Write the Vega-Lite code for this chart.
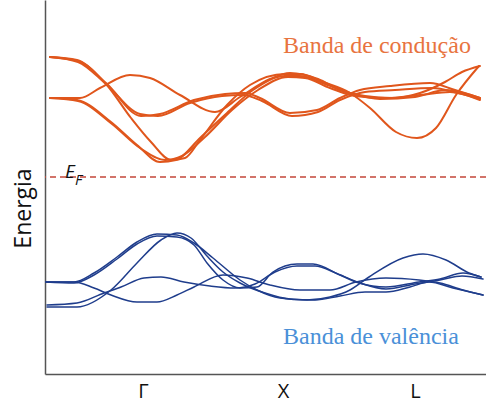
{
  "$schema": "https://vega.github.io/schema/vega-lite/v6.json",
  "width": 441,
  "height": 374,
  "autosize": {"type": "none"},
  "padding": {"left": 45, "top": 0, "right": 0, "bottom": 31},
  "background": "white",
  "config": {"view": {"stroke": null}},
  "datasets": {
    "bandas": [
      {"c":"O1","b":"cond","k":5,"E":317},{"c":"O1","b":"cond","k":32,"E":314},{"c":"O1","b":"cond","k":61,"E":291},{"c":"O1","b":"cond","k":96,"E":258},{"c":"O1","b":"cond","k":115,"E":260},{"c":"O1","b":"cond","k":149,"E":274},{"c":"O1","b":"cond","k":180,"E":280},{"c":"O1","b":"cond","k":200,"E":281},{"c":"O1","b":"cond","k":215,"E":276},{"c":"O1","b":"cond","k":245,"E":261},{"c":"O1","b":"cond","k":272,"E":264},{"c":"O1","b":"cond","k":295,"E":276},{"c":"O1","b":"cond","k":315,"E":284},{"c":"O1","b":"cond","k":345,"E":288},{"c":"O1","b":"cond","k":385,"E":291},{"c":"O1","b":"cond","k":410,"E":284},{"c":"O1","b":"cond","k":435,"E":276},
      {"c":"O2","b":"cond","k":5,"E":317},{"c":"O2","b":"cond","k":33,"E":312},{"c":"O2","b":"cond","k":62,"E":289},{"c":"O2","b":"cond","k":95,"E":260},{"c":"O2","b":"cond","k":113,"E":258},{"c":"O2","b":"cond","k":145,"E":271},{"c":"O2","b":"cond","k":177,"E":278},{"c":"O2","b":"cond","k":198,"E":279},{"c":"O2","b":"cond","k":217,"E":273},{"c":"O2","b":"cond","k":247,"E":258},{"c":"O2","b":"cond","k":273,"E":262},{"c":"O2","b":"cond","k":295,"E":274},{"c":"O2","b":"cond","k":320,"E":282},{"c":"O2","b":"cond","k":350,"E":284},{"c":"O2","b":"cond","k":387,"E":286},{"c":"O2","b":"cond","k":413,"E":281},{"c":"O2","b":"cond","k":435,"E":275},
      {"c":"O3","b":"cond","k":5,"E":317},{"c":"O3","b":"cond","k":33,"E":313},{"c":"O3","b":"cond","k":61,"E":290},{"c":"O3","b":"cond","k":86,"E":256},{"c":"O3","b":"cond","k":106,"E":232},{"c":"O3","b":"cond","k":126,"E":214},{"c":"O3","b":"cond","k":140,"E":216},{"c":"O3","b":"cond","k":155,"E":234},{"c":"O3","b":"cond","k":182,"E":269},{"c":"O3","b":"cond","k":205,"E":289},{"c":"O3","b":"cond","k":240,"E":300},{"c":"O3","b":"cond","k":255,"E":300},{"c":"O3","b":"cond","k":278,"E":292},{"c":"O3","b":"cond","k":305,"E":281},{"c":"O3","b":"cond","k":325,"E":266},{"c":"O3","b":"cond","k":351,"E":242},{"c":"O3","b":"cond","k":372,"E":236},{"c":"O3","b":"cond","k":391,"E":246},{"c":"O3","b":"cond","k":411,"E":279},{"c":"O3","b":"cond","k":434,"E":308},
      {"c":"O4","b":"cond","k":5,"E":276},{"c":"O4","b":"cond","k":35,"E":276},{"c":"O4","b":"cond","k":55,"E":286},{"c":"O4","b":"cond","k":85,"E":299},{"c":"O4","b":"cond","k":105,"E":296},{"c":"O4","b":"cond","k":135,"E":279},{"c":"O4","b":"cond","k":170,"E":262},{"c":"O4","b":"cond","k":195,"E":277},{"c":"O4","b":"cond","k":225,"E":295},{"c":"O4","b":"cond","k":245,"E":301},{"c":"O4","b":"cond","k":273,"E":295},{"c":"O4","b":"cond","k":295,"E":284},{"c":"O4","b":"cond","k":320,"E":278},{"c":"O4","b":"cond","k":347,"E":276},{"c":"O4","b":"cond","k":375,"E":281},{"c":"O4","b":"cond","k":400,"E":292},{"c":"O4","b":"cond","k":417,"E":302},{"c":"O4","b":"cond","k":435,"E":308},
      {"c":"O5","b":"cond","k":5,"E":276},{"c":"O5","b":"cond","k":32,"E":274},{"c":"O5","b":"cond","k":66,"E":252},{"c":"O5","b":"cond","k":92,"E":229},{"c":"O5","b":"cond","k":115,"E":212},{"c":"O5","b":"cond","k":131,"E":214},{"c":"O5","b":"cond","k":155,"E":236},{"c":"O5","b":"cond","k":182,"E":261},{"c":"O5","b":"cond","k":208,"E":284},{"c":"O5","b":"cond","k":240,"E":298},{"c":"O5","b":"cond","k":255,"E":298},{"c":"O5","b":"cond","k":280,"E":290},{"c":"O5","b":"cond","k":305,"E":281},{"c":"O5","b":"cond","k":335,"E":275},{"c":"O5","b":"cond","k":370,"E":277},{"c":"O5","b":"cond","k":400,"E":284},{"c":"O5","b":"cond","k":435,"E":276},
      {"c":"O6","b":"cond","k":5,"E":276},{"c":"O6","b":"cond","k":33,"E":273},{"c":"O6","b":"cond","k":67,"E":250},{"c":"O6","b":"cond","k":95,"E":226},{"c":"O6","b":"cond","k":120,"E":214},{"c":"O6","b":"cond","k":137,"E":218},{"c":"O6","b":"cond","k":160,"E":237},{"c":"O6","b":"cond","k":187,"E":264},{"c":"O6","b":"cond","k":213,"E":284},{"c":"O6","b":"cond","k":243,"E":297},{"c":"O6","b":"cond","k":260,"E":296},{"c":"O6","b":"cond","k":285,"E":286},{"c":"O6","b":"cond","k":310,"E":278},{"c":"O6","b":"cond","k":340,"E":276},{"c":"O6","b":"cond","k":375,"E":279},{"c":"O6","b":"cond","k":405,"E":282},{"c":"O6","b":"cond","k":435,"E":274},
      {"c":"B1","b":"val","k":1,"E":92},{"c":"B1","b":"val","k":29,"E":92},{"c":"B1","b":"val","k":49,"E":101},{"c":"B1","b":"val","k":72,"E":117},{"c":"B1","b":"val","k":92,"E":132},{"c":"B1","b":"val","k":112,"E":140},{"c":"B1","b":"val","k":132,"E":139},{"c":"B1","b":"val","k":149,"E":131},{"c":"B1","b":"val","k":168,"E":116},{"c":"B1","b":"val","k":195,"E":94},{"c":"B1","b":"val","k":212,"E":84},{"c":"B1","b":"val","k":235,"E":76},{"c":"B1","b":"val","k":262,"E":74},{"c":"B1","b":"val","k":285,"E":77},{"c":"B1","b":"val","k":305,"E":84},{"c":"B1","b":"val","k":324,"E":97},{"c":"B1","b":"val","k":358,"E":116},{"c":"B1","b":"val","k":378,"E":120},{"c":"B1","b":"val","k":401,"E":114},{"c":"B1","b":"val","k":424,"E":101},{"c":"B1","b":"val","k":436,"E":97},
      {"c":"B2","b":"val","k":1,"E":92},{"c":"B2","b":"val","k":29,"E":91},{"c":"B2","b":"val","k":49,"E":99},{"c":"B2","b":"val","k":72,"E":115},{"c":"B2","b":"val","k":92,"E":130},{"c":"B2","b":"val","k":112,"E":138},{"c":"B2","b":"val","k":132,"E":137},{"c":"B2","b":"val","k":149,"E":129},{"c":"B2","b":"val","k":162,"E":111},{"c":"B2","b":"val","k":178,"E":94},{"c":"B2","b":"val","k":195,"E":86},{"c":"B2","b":"val","k":212,"E":87},{"c":"B2","b":"val","k":228,"E":102},{"c":"B2","b":"val","k":252,"E":110},{"c":"B2","b":"val","k":268,"E":110},{"c":"B2","b":"val","k":295,"E":99},{"c":"B2","b":"val","k":314,"E":91},{"c":"B2","b":"val","k":341,"E":87},{"c":"B2","b":"val","k":374,"E":92},{"c":"B2","b":"val","k":395,"E":95},{"c":"B2","b":"val","k":418,"E":101},{"c":"B2","b":"val","k":436,"E":97},
      {"c":"B3","b":"val","k":2,"E":67},{"c":"B3","b":"val","k":32,"E":67},{"c":"B3","b":"val","k":66,"E":84},{"c":"B3","b":"val","k":92,"E":111},{"c":"B3","b":"val","k":116,"E":134},{"c":"B3","b":"val","k":132,"E":141},{"c":"B3","b":"val","k":146,"E":136},{"c":"B3","b":"val","k":162,"E":118},{"c":"B3","b":"val","k":178,"E":102},{"c":"B3","b":"val","k":195,"E":91},{"c":"B3","b":"val","k":220,"E":81},{"c":"B3","b":"val","k":245,"E":75},{"c":"B3","b":"val","k":270,"E":74},{"c":"B3","b":"val","k":295,"E":78},{"c":"B3","b":"val","k":320,"E":82},{"c":"B3","b":"val","k":341,"E":82},{"c":"B3","b":"val","k":365,"E":87},{"c":"B3","b":"val","k":384,"E":92},{"c":"B3","b":"val","k":408,"E":86},{"c":"B3","b":"val","k":438,"E":79},
      {"c":"B4","b":"val","k":1,"E":92},{"c":"B4","b":"val","k":29,"E":92},{"c":"B4","b":"val","k":49,"E":86},{"c":"B4","b":"val","k":66,"E":79},{"c":"B4","b":"val","k":92,"E":72},{"c":"B4","b":"val","k":112,"E":72},{"c":"B4","b":"val","k":132,"E":79},{"c":"B4","b":"val","k":149,"E":87},{"c":"B4","b":"val","k":178,"E":99},{"c":"B4","b":"val","k":202,"E":96},{"c":"B4","b":"val","k":225,"E":89},{"c":"B4","b":"val","k":255,"E":84},{"c":"B4","b":"val","k":285,"E":84},{"c":"B4","b":"val","k":311,"E":92},{"c":"B4","b":"val","k":341,"E":96},{"c":"B4","b":"val","k":374,"E":94},{"c":"B4","b":"val","k":395,"E":91},{"c":"B4","b":"val","k":418,"E":84},{"c":"B4","b":"val","k":438,"E":79},
      {"c":"B5","b":"val","k":2,"E":69},{"c":"B5","b":"val","k":32,"E":71},{"c":"B5","b":"val","k":59,"E":81},{"c":"B5","b":"val","k":76,"E":87},{"c":"B5","b":"val","k":99,"E":96},{"c":"B5","b":"val","k":116,"E":97},{"c":"B5","b":"val","k":139,"E":92},{"c":"B5","b":"val","k":165,"E":88},{"c":"B5","b":"val","k":190,"E":86},{"c":"B5","b":"val","k":210,"E":90},{"c":"B5","b":"val","k":230,"E":102},{"c":"B5","b":"val","k":252,"E":108},{"c":"B5","b":"val","k":270,"E":108},{"c":"B5","b":"val","k":293,"E":100},{"c":"B5","b":"val","k":315,"E":91},{"c":"B5","b":"val","k":341,"E":85},{"c":"B5","b":"val","k":370,"E":90},{"c":"B5","b":"val","k":395,"E":94},{"c":"B5","b":"val","k":417,"E":98},{"c":"B5","b":"val","k":438,"E":95}
    ],
    "fermi": [{"E": 197}],
    "rotulos": [
      {"k": 238, "E": 321, "texto": "Banda de condução", "b": "cond"},
      {"k": 238, "E": 30, "texto": "Banda de valência", "b": "val"}
    ]
  },
  "layer": [
    {
      "data": {"name": "bandas"},
      "mark": {"type": "line", "interpolate": "monotone", "strokeCap": "round"},
      "encoding": {
        "x": {
          "field": "k", "type": "quantitative",
          "scale": {"domain": [0, 441], "nice": false, "zero": false},
          "axis": {
            "title": null, "values": [98, 238, 370],
            "labelExpr": "datum.value == 98 ? 'Γ' : datum.value == 238 ? 'X' : 'L'",
            "grid": false, "ticks": false, "labelPadding": 7,
            "labelFont": "Open Sans", "labelFontSize": 20, "labelColor": "#111",
            "domainColor": "#555", "domainWidth": 1.5
          }
        },
        "y": {
          "field": "E", "type": "quantitative",
          "scale": {"domain": [0, 374], "nice": false},
          "axis": {
            "title": "Energia", "values": [], "grid": false, "ticks": false, "labels": false,
            "titleFont": "Open Sans", "titleFontSize": 23, "titleFontWeight": "normal",
            "titleColor": "#111", "titleX": -22, "titleY": 208,
            "titleAngle": 270, "titleAlign": "center", "titleBaseline": "middle",
            "domainColor": "#555", "domainWidth": 1.5
          }
        },
        "detail": {"field": "c"},
        "color": {
          "field": "b", "type": "nominal",
          "scale": {"domain": ["cond", "val"], "range": ["#e0561c", "#1f3d8c"]},
          "legend": null
        },
        "strokeWidth": {
          "field": "b", "type": "nominal",
          "scale": {"domain": ["cond", "val"], "range": [2, 1.5]},
          "legend": null
        }
      }
    },
    {
      "data": {"name": "fermi"},
      "mark": {"type": "rule", "color": "#c4473a", "strokeWidth": 1.3, "strokeDash": [6, 4]},
      "encoding": {"y": {"field": "E", "type": "quantitative"}}
    },
    {
      "data": {"values": [{"k": 20, "E": 196, "t": "E"}]},
      "mark": {"type": "text", "align": "left", "baseline": "alphabetic", "font": "Open Sans", "fontStyle": "italic", "fontSize": 19, "color": "#111"},
      "encoding": {"x": {"field": "k", "type": "quantitative"}, "y": {"field": "E", "type": "quantitative"}, "text": {"field": "t"}}
    },
    {
      "data": {"values": [{"k": 30, "E": 189, "t": "F"}]},
      "mark": {"type": "text", "align": "left", "baseline": "alphabetic", "font": "Open Sans", "fontStyle": "italic", "fontSize": 15, "color": "#111"},
      "encoding": {"x": {"field": "k", "type": "quantitative"}, "y": {"field": "E", "type": "quantitative"}, "text": {"field": "t"}}
    },
    {
      "data": {"name": "rotulos"},
      "mark": {"type": "text", "align": "left", "baseline": "alphabetic", "font": "Liberation Serif", "fontSize": 24},
      "encoding": {
        "x": {"field": "k", "type": "quantitative"},
        "y": {"field": "E", "type": "quantitative"},
        "text": {"field": "texto"},
        "color": {
          "field": "b", "type": "nominal",
          "scale": {"domain": ["cond", "val"], "range": ["#e8743f", "#4a90d8"]},
          "legend": null
        }
      }
    }
  ],
  "resolve": {"scale": {"color": "independent"}}
}
